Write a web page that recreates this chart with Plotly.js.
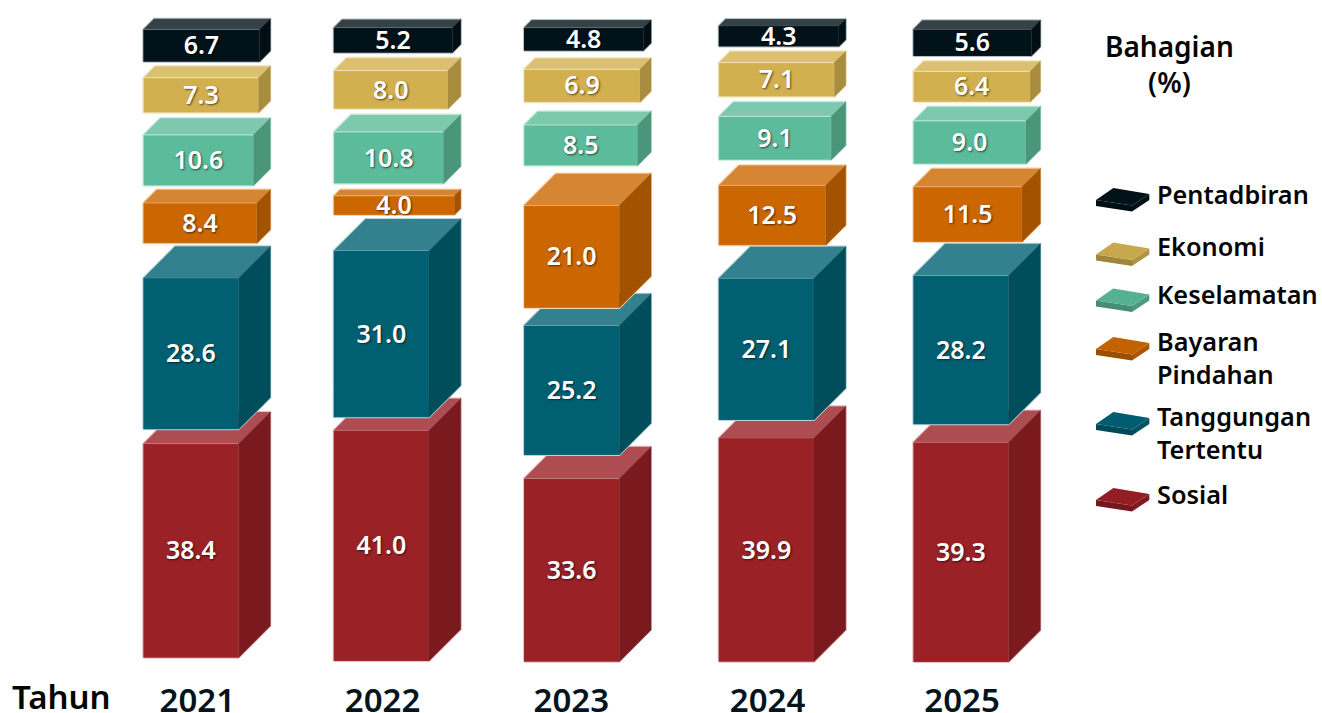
<!DOCTYPE html>
<html>
<head>
<meta charset="utf-8">
<script src="https://cdn.plot.ly/plotly-3.0.1.min.js"></script>
<style>html,body{margin:0;padding:0;background:#fff;overflow:hidden}</style>
</head>
<body>
<div id="chart" style="width:1322px;height:713px"></div>
<script>
// ---- data ----
const years = [2021, 2022, 2023, 2024, 2025];
const sosial     = [38.4, 41.0, 33.6, 39.9, 39.3];
const tanggungan = [28.6, 31.0, 25.2, 27.1, 28.2];
const bayaran    = [8.4, 4.0, 21.0, 12.5, 11.5];
const keselamatan= [10.6, 10.8, 8.5, 9.1, 9.0];
const ekonomi    = [7.3, 8.0, 6.9, 7.1, 6.4];
const pentadbiran= [6.7, 5.2, 4.8, 4.3, 5.6];

// ---- series styling (bottom to top) ----
const series = [
  {vals: sosial,      color: [154, 33, 38],  edge: '#e3c0c1', inner: 'rgba(255,255,255,0.08)'},
  {vals: tanggungan,  color: [0, 96, 114],   edge: '#b5d2d9', inner: 'rgba(255,255,255,0.08)'},
  {vals: bayaran,     color: [204, 102, 0],  edge: '#f3d3b0', inner: 'rgba(255,235,210,0.25)'},
  {vals: keselamatan, color: [92, 187, 154], edge: '#cdebe0', inner: 'rgba(225,250,240,0.45)'},
  {vals: ekonomi,     color: [210, 176, 79], edge: '#f2e6c4', inner: 'rgba(250,240,210,0.5)'},
  {vals: pentadbiran, color: [1, 18, 25],    edge: '#b4c0c5', inner: 'rgba(255,255,255,0.05)'}
];
const legendItems = [
  {color: [1, 18, 25], y: 200, text: 'Pentadbiran', ty: 193.5},
  {color: [200, 168, 76], y: 254.5, text: 'Ekonomi', ty: 246.5},
  {color: [86, 176, 146], y: 300.5, text: 'Keselamatan', ty: 293.5},
  {color: [194, 98, 0], y: 349, text: 'Bayaran<br>Pindahan', ty: 357.5},
  {color: [0, 92, 110], y: 424, text: 'Tanggungan<br>Tertentu', ty: 432.5},
  {color: [146, 30, 36], y: 500, text: 'Sosial', ty: 493.5}
];

// ---- layout constants ----
const W = 1322, H = 713, MARGIN_B = 48;
const PLOT_H = H - MARGIN_B;
const PX_PER_UNIT = 6.4;     // vertical scale: px per percentage point
const PX_PER_YEAR = 192.5;   // horizontal scale
const FIRST_LEFT = 143.3;    // px of the first column's left edge
const CUBE_W = 127;          // cube bounding width, px
const LABEL_DROP = 2.5;      // px
const columnNudge = [0, -2.1, -4.3, -2.1, 0];
const tickOffset = [54, 46.7, 43, 46.7, 48.7];
const stackFloor = [657.7, 661, 661.7, 661.7, 662];
const stackGaps = [
  [-17.4, 3.0, 3.8, 5.2, 4.3],
  [-18.7, 3.9, 5.7, 5.6, 5.1],
  [-8.3, -14.3, 7.9, 9.0, 7.4],
  [-13.7, 1.4, 5.2, 5.1, 4.6],
  [-13.8, 1.8, 4.4, 4.4, 5.0]
];

const mix = (c, t, f) => 'rgb(' + c.map(v => Math.round(v * (1 - f) + t * f)).join(',') + ')';
const xUnit = px => px / PX_PER_YEAR;
const yUnit = px => px / PX_PER_UNIT;
const xStart = years[0] - xUnit(FIRST_LEFT);
const yOf = py => yUnit(PLOT_H - py);

const FONT = '"Noto Sans", sans-serif';
const traces = [];
const cursors = stackFloor.map(yOf);

series.forEach((s, si) => {
  const barX = [], barW = [], barH = [], barB = [], lx = [], ly = [];
  const topX = [], topY = [], sideX = [], sideY = [], outX = [], outY = [];
  s.vals.forEach((v, yi) => {
    const bottom = cursors[yi];
    const top = bottom + v;                                   // full height is the value
    const depthPx = 0.25 * Math.min(CUBE_W, v * PX_PER_UNIT); // cube depth
    const dy = yUnit(depthPx), dx = xUnit(depthPx);
    const left = years[yi] + xUnit(columnNudge[yi]);
    const right = left + xUnit(CUBE_W);
    const fr = right - dx, ft = top - dy;
    barX.push((left + fr) / 2); barW.push(fr - left);
    barH.push(ft - bottom); barB.push(bottom);
    lx.push((left + fr) / 2); ly.push((bottom + ft) / 2 - yUnit(LABEL_DROP));
    topX.push(left, fr, right, left + dx, left, null);
    topY.push(ft, ft, top, top, ft, null);
    sideX.push(fr, right, right, fr, fr, null);
    sideY.push(bottom, bottom + dy, top, ft, bottom, null);
    outX.push(left, fr, right, right, left + dx, left, left, null);
    outY.push(bottom, bottom, bottom + dy, top, top, ft, bottom, null);
    if (si < stackGaps[yi].length) cursors[yi] = top + yUnit(stackGaps[yi][si]);
  });
  const z = 3 * si + 1;
  const topFill = mix(s.color, 255, 0.2), sideFill = mix(s.color, 0, 0.2);
  traces.push({type: 'scatter', mode: 'lines', x: outX, y: outY, zorder: z,
    line: {color: s.edge, width: 2, shape: 'linear'}, hoverinfo: 'skip', showlegend: false});
  traces.push({type: 'bar', x: barX, y: barH, base: barB, width: barW, zorder: z + 1,
    marker: {color: mix(s.color, 0, 0), line: {color: s.inner, width: 1}}, hoverinfo: 'skip', showlegend: false});
  traces.push({type: 'scatter', mode: 'lines', x: topX, y: topY, fill: 'toself', zorder: z + 2,
    fillcolor: topFill, line: {color: s.inner, width: 1}, hoverinfo: 'skip', showlegend: false});
  traces.push({type: 'scatter', mode: 'lines', x: sideX, y: sideY, fill: 'toself', zorder: z + 2,
    fillcolor: sideFill, line: {color: sideFill, width: 0.5}, hoverinfo: 'skip', showlegend: false});
  s.labelX = lx; s.labelY = ly;
});
series.forEach(s => {
  traces.push({type: 'scatter', mode: 'text', x: s.labelX, y: s.labelY, zorder: 40,
    text: s.vals.map(v => v.toFixed(1)), textposition: 'middle center',
    textfont: {family: FONT, size: 25, color: '#fff', weight: 600, shadow: '1px 1px 2px rgba(0,0,0,0.6)'},
    hoverinfo: 'skip', showlegend: false});
});

// ---- legend swatches ----
const px2x = px => px / W;
const px2y = py => (PLOT_H - py) / PLOT_H;
const poly = pts => 'M' + pts.map(p => px2x(p[0]) + ' ' + px2y(p[1])).join(' L') + ' Z';
const shapes = [];
legendItems.forEach(it => {
  const y = it.y, L = 1096, T = 1113.3, R = 1149.3, B = 1132;
  const faces = [
    {pts: [[L, y], [B, y + 5.5], [B, y + 11.5], [L, y + 6]], fill: mix(it.color, 0, 0.2)},
    {pts: [[B, y + 5.5], [R, y - 6], [R, y], [B, y + 11.5]], fill: mix(it.color, 0, 0.12)},
    {pts: [[L, y], [T, y - 12], [R, y - 6], [B, y + 5.5]], fill: mix(it.color, 0, 0)}
  ];
  faces.forEach(f => shapes.push({type: 'path', xref: 'paper', yref: 'paper', path: poly(f.pts),
    fillcolor: f.fill, line: {width: 0}}));
});

// ---- text ----
const ann = (text, xpx, ypx, size, anchor, weight) => ({
  text, xref: 'paper', yref: 'paper', x: px2x(xpx), y: px2y(ypx), showarrow: false,
  xanchor: anchor, yanchor: 'middle', align: anchor === 'left' ? 'left' : 'center',
  font: {family: FONT, size, color: '#050505', weight}
});
const annotations = [
  ann('Bahagian<br>(%)', 1169, 64, 28, 'center', 600),
  ann('Tahun', 61.5, 696.5, 33, 'center', 600)
];
legendItems.forEach(it => annotations.push(ann(it.text, 1155, it.ty, 25.3, 'left', 600)));

const layout = {
  width: W, height: H,
  margin: {l: 0, r: 0, t: 0, b: MARGIN_B, pad: 0},
  paper_bgcolor: '#fff', plot_bgcolor: '#fff',
  barmode: 'overlay', showlegend: false,
  xaxis: {type: 'linear', range: [xStart, xStart + xUnit(W)], fixedrange: true,
    tickmode: 'array',
    tickvals: years.map((yr, i) => yr + xUnit(tickOffset[i])),
    ticktext: years.map(String),
    ticks: 'outside', ticklen: 6, tickcolor: 'rgba(0,0,0,0)',
    tickfont: {family: FONT, size: 33, color: '#04141c', weight: 600},
    showgrid: false, zeroline: false, showline: false},
  yaxis: {type: 'linear', range: [0, yUnit(PLOT_H)], fixedrange: true,
    showticklabels: false, ticks: '', showgrid: false, zeroline: false, showline: false},
  shapes, annotations
};
Plotly.newPlot('chart', traces, layout, {displayModeBar: false, staticPlot: true});
</script>
</body>
</html>
